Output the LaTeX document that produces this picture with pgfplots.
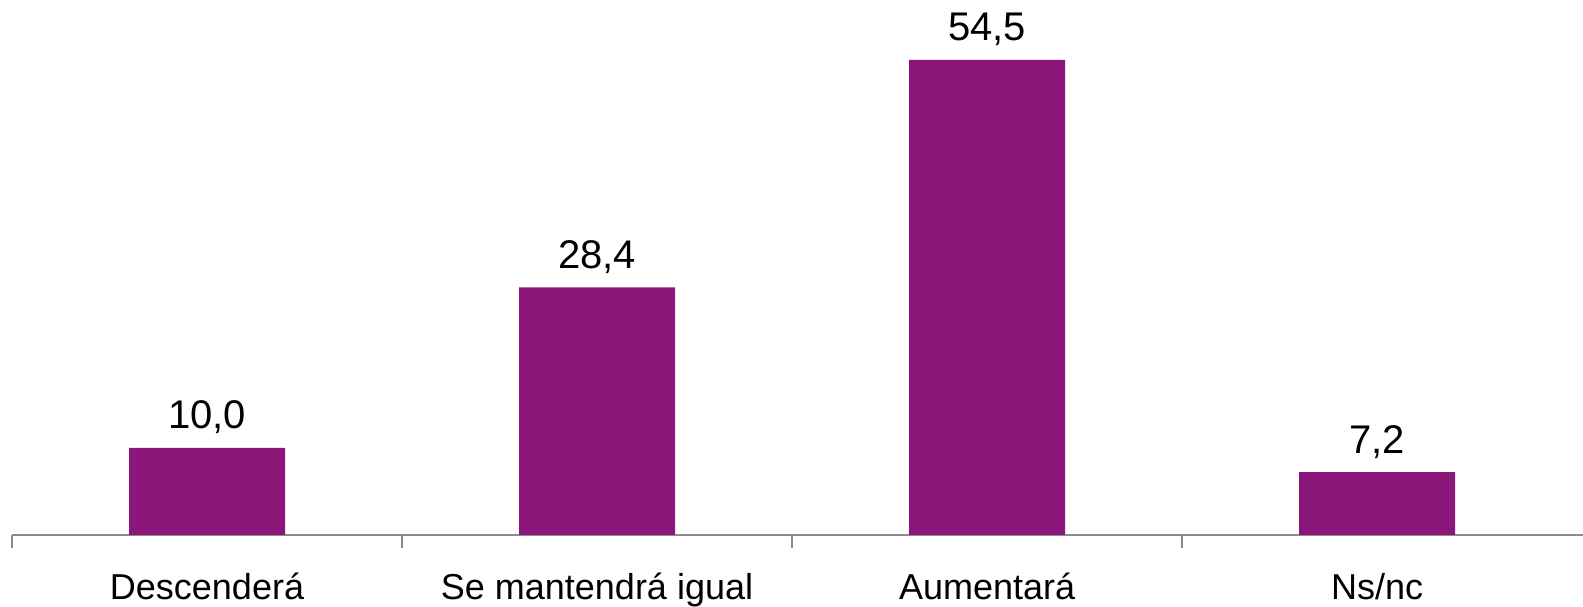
\documentclass[border=0pt]{standalone}
\usepackage{fontspec}
\setmainfont{Liberation Sans}
\usepackage{pgfplots}
\pgfplotsset{compat=1.18}
\definecolor{barpurple}{HTML}{8B177B}
\definecolor{axgray}{HTML}{8C8C8C}

\begin{document}
\begin{tikzpicture}
\begin{axis}[
    name=ax,
    scale only axis,
    width=785.5pt,
    height=267.5pt,
    xmin=-0.5, xmax=3.528,
    ymin=0, ymax=61.38,
    clip=false,
    axis y line=none,
    axis x line*=bottom,
    x axis line style={draw=axgray, line width=1.2pt},
    xtick={-0.5,0.5,1.5,2.5},
    xticklabels={Descenderá, Se mantendrá igual, Aumentará, Ns/nc},
    tick align=outside,
    major tick length=6.5pt,
    x tick style={draw=axgray, line width=1.2pt},
    x tick label style={font=\fontsize{18}{20}\selectfont, xshift=97.5pt, yshift=-9pt},
    ybar,
    bar width=78pt,
    nodes near coords,
    nodes near coords style={font=\fontsize{20}{22}\selectfont, yshift=3.5pt,
        /pgf/number format/.cd, fixed, fixed zerofill, precision=1, use comma,
        assume math mode=true},
]
\addplot[fill=barpurple, draw=none] coordinates {
    (0,10.0) (1,28.4) (2,54.5) (3,7.2)
};
\end{axis}
\pgfresetboundingbox
\path ([xshift=-6pt, yshift=-36pt]ax.south west) rectangle (ax.north east);
\end{tikzpicture}
\end{document}
